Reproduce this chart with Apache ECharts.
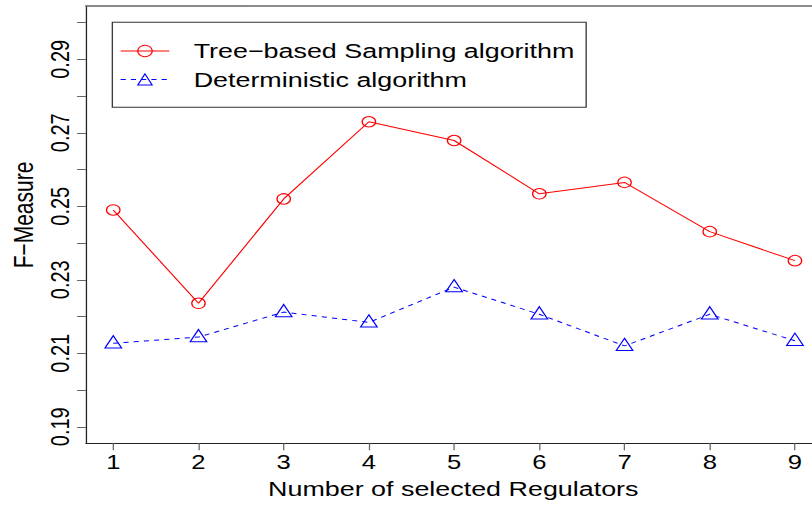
<!DOCTYPE html>
<html>
<head>
<meta charset="utf-8">
<script src="https://cdn.jsdelivr.net/npm/echarts@6/dist/echarts.min.js"></script>
<style>
  html, body { margin: 0; padding: 0; background: #fff; }
  #frame { width: 812px; height: 506px; overflow: hidden; position: relative; }
  /* the plot is laid out on a narrower canvas and widened horizontally */
  #chart { width: 634px; height: 506px; transform: scaleX(1.28076); transform-origin: 0 0; }
</style>
</head>
<body>
<div id="frame"><div id="chart"></div></div>
<script>
// Number of selected regulators
const regulators = [1, 2, 3, 4, 5, 6, 7, 8, 9];
// F-Measure of each method
const treeSampling = [0.249, 0.2236, 0.252, 0.273, 0.2679, 0.2534, 0.2565, 0.2431, 0.2352];
const deterministic = [0.2127, 0.2144, 0.2212, 0.2184, 0.2280, 0.2206, 0.2120, 0.2206, 0.2134];
// Axis ticks and labels
const yTicks = [0.19, 0.20, 0.21, 0.22, 0.23, 0.24, 0.25, 0.26, 0.27, 0.28, 0.29, 0.30];
const yLabels = [0.19, 0.21, 0.23, 0.25, 0.27, 0.29];
const seriesNames = ['Tree\u2212based Sampling algorithm', 'Deterministic algorithm'];

const FONT = '"Liberation Sans", Arial, Helvetica, sans-serif';
const chart = echarts.init(document.getElementById('chart'), null, { renderer: 'svg' });

chart.setOption({
  animation: false,
  backgroundColor: '#fff',
  grid: { left: 67.15, right: 0, top: 6, bottom: 62.7, containLabel: false },
  xAxis: [{
    type: 'value', min: 0.68, max: 9.2, position: 'bottom',
    splitLine: { show: false },
    axisLine: { show: true, onZero: false, lineStyle: { color: '#222', width: 1 } },
    axisTick: { show: true, inside: false, length: 7, customValues: regulators, lineStyle: { color: '#666' } },
    axisLabel: { show: true, customValues: regulators, margin: 9, fontSize: 20, color: '#000', fontFamily: FONT }
  }, {
    type: 'value', min: 0.68, max: 9.2, position: 'top',
    splitLine: { show: false },
    axisLine: { show: true, onZero: false, lineStyle: { color: '#666', width: 1.5 } },
    axisTick: { show: false }, axisLabel: { show: false }
  }],
  yAxis: {
    type: 'value', min: 0.1855, max: 0.3045,
    splitLine: { show: false },
    axisLine: { show: true, onZero: false, lineStyle: { color: '#222', width: 1 } },
    axisTick: { show: true, length: 7, customValues: yTicks, lineStyle: { color: '#666' } },
    axisLabel: {
      show: true, customValues: yLabels, rotate: 90, margin: 10, fontSize: 20,
      color: '#000', fontFamily: FONT, formatter: v => Number(v).toFixed(2)
    }
  },
  legend: {
    orient: 'vertical', left: 87.7, top: 22.3,
    itemWidth: 38, itemHeight: 14, itemGap: 4.5,
    padding: [16.7, 9, 15.8, 6],
    borderColor: '#333', borderWidth: 1, backgroundColor: '#fff',
    lineStyle: { width: 1 },
    itemStyle: { borderWidth: 1 },
    textStyle: { fontSize: 21, lineHeight: 24, color: '#000', fontFamily: FONT, padding: [0, 0, 0, 14] },
    data: seriesNames
  },
  graphic: [{
    type: 'text', x: 18.75, y: 215, rotation: Math.PI / 2,
    style: { text: 'F\u2212Measure', fontSize: 21, fontFamily: FONT, fill: '#000', align: 'center', verticalAlign: 'middle' }
  }, {
    type: 'text', x: 353.9, y: 489,
    style: { text: 'Number of selected Regulators', fontSize: 21, fontFamily: FONT, fill: '#000', align: 'center', verticalAlign: 'middle' }
  }],
  series: [{
    name: seriesNames[0], type: 'line',
    data: regulators.map((r, i) => [r, treeSampling[i]]),
    symbol: 'circle', symbolSize: 10.5,
    itemStyle: { color: 'rgba(255,255,255,0)', borderColor: '#ff0000', borderWidth: 1 },
    lineStyle: { color: '#ff0000', width: 1, type: 'solid' }
  }, {
    name: seriesNames[1], type: 'line',
    data: regulators.map((r, i) => [r, deterministic[i]]),
    symbol: 'triangle', symbolSize: [13, 12.3], symbolOffset: [0, -1.5],
    itemStyle: { color: 'rgba(255,255,255,0)', borderColor: '#0000ff', borderWidth: 1 },
    lineStyle: { color: '#0000ff', width: 1, type: [4, 4] }
  }]
});
</script>
</body>
</html>
